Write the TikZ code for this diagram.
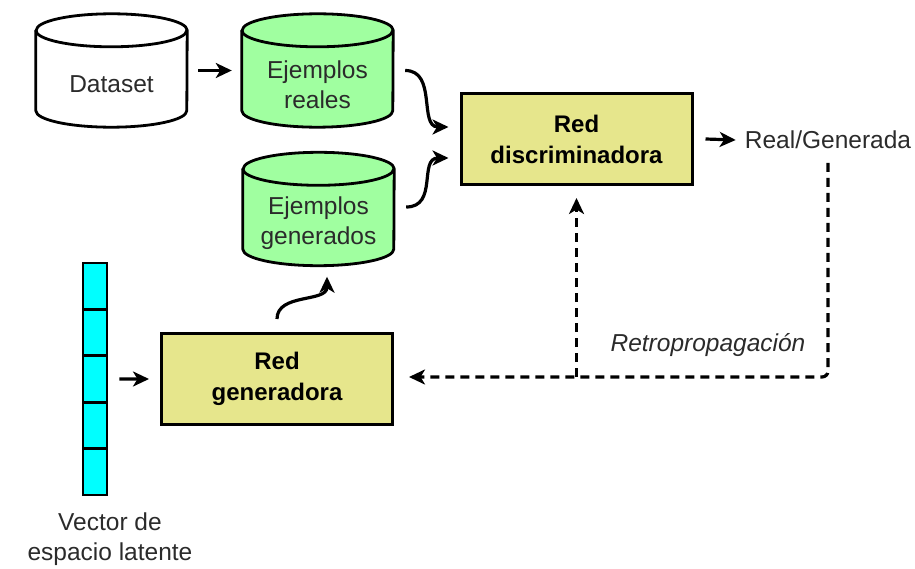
\documentclass[tikz,border=0pt]{standalone}
\usepackage{fontspec}
\setmainfont{Liberation Sans}
\usetikzlibrary{arrows.meta,calc}

\definecolor{storegreen}{HTML}{A0FFA0}
\definecolor{netyellow}{HTML}{E6E68C}
\definecolor{latentcyan}{HTML}{00FFFF}
\definecolor{textgray}{HTML}{2B2B2B}

\tikzset{
  cylbox/.style={minimum width=151pt, minimum height=113pt, inner sep=0pt},
  outline/.style={draw=black, line width=2.8pt, line join=round},
  txt/.style={font=\fontsize{24.5pt}{30pt}\selectfont, text=textgray, align=center, inner sep=0pt},
  netbox/.style={draw=black, line width=3pt, fill=netyellow, minimum width=231pt,
    minimum height=91pt, inner sep=0pt, align=center, text=black,
    font=\fontsize{24pt}{31pt}\selectfont\bfseries},
  cell/.style={draw=black, line width=2.8pt, fill=latentcyan, minimum width=24pt,
    minimum height=46.4pt, inner sep=0pt},
  flow/.style={line width=3.2pt, -{Stealth[length=16pt,width=15pt,inset=4.5pt]}},
  backflow/.style={flow, dash pattern=on 9pt off 6pt},
}

% vertical storage cylinder drawn around an empty box node
\newcommand\drawstore[2]{%
  \path[outline, fill=#2] ([yshift=-16.5pt]#1.north west)
    -- ([yshift=16.5pt]#1.south west)
    arc[start angle=180, end angle=360, x radius=75.5pt, y radius=16.5pt]
    -- ([yshift=-16.5pt]#1.north east)
    arc[start angle=0, end angle=180, x radius=75.5pt, y radius=16.5pt]
    -- cycle;
  \draw[outline] ([yshift=-16.5pt]#1.north west)
    arc[start angle=180, end angle=360, x radius=75.5pt, y radius=16.5pt];
}

\begin{document}
\begin{tikzpicture}[x=1pt, y=-1pt]
  \useasboundingbox (0,0) rectangle (915,569);

  % data stores
  \node[cylbox] (dataset) at (111.5,70.5) {};
  \node[cylbox] (reales) at (317.5,70.5) {};
  \node[cylbox] (generados) at (318.5,209) {};
  \drawstore{dataset}{white}
  \drawstore{reales}{storegreen}
  \drawstore{generados}{storegreen}
  \node[txt] (dataset-t) at (111.5,84) {Dataset};
  \node[txt] (reales-t) at (317.5,85) {Ejemplos\\reales};
  \node[txt] (generados-t) at (318.5,223) {Ejemplos\\generados};

  % networks
  \node[netbox] (disc) at (576.5,139) {Red\\discriminadora};
  \node[netbox] (gen) at (277,379) {Red\\generadora};

  % latent vector
  \foreach \i in {1,...,5} {
    \node[cell] (v\i) at (95,{263+23.2+46.4*(\i-1)}) {};
  }
  \node[txt] (vec-t) at (110,539) {Vector de\\espacio latente};

  % output label
  \node[txt] (res) at (828,140) {Real/Generada};
  \node[txt, font=\fontsize{24.5pt}{30pt}\selectfont\itshape] (retro) at (708,345) {Retropropagación};

  % forward connectors
  \draw[flow] ([xshift=11pt]dataset.east) -- ([xshift=-10pt]reales.west);
  \draw[flow] ([xshift=12pt]reales.east) .. controls +(32,0) and +(-30,0) .. ([xshift=-11pt,yshift=12pt]disc.west);
  \draw[flow] ([xshift=12pt,yshift=2pt]generados.east) .. controls +(32,0) and +(-30,0) .. ([xshift=-11pt,yshift=-19pt]disc.west);
  \draw[flow] ([xshift=11pt]v3.east) -- ([xshift=-11pt]gen.west);
  \draw[flow] ([yshift=13pt]gen.north) .. controls +(0,-26) and +(0,26) .. ([xshift=8.5pt,yshift=-11pt]generados.south);
  \draw[flow] ([xshift=12pt]disc.east) -- ([xshift=-9pt]res.west);

  % backpropagation
  \coordinate (split) at (576.5,377);
  \coordinate (turn) at (res.center |- split);
  \coordinate (backend) at ($(gen.east |- split)+(15,0)$);
  \draw[backflow, rounded corners=6pt] ($(res.center)+(0,23)$) -- (turn) -- (backend);
  \draw[backflow] (split) -- ([yshift=-12pt]disc.south);
\end{tikzpicture}
\end{document}
